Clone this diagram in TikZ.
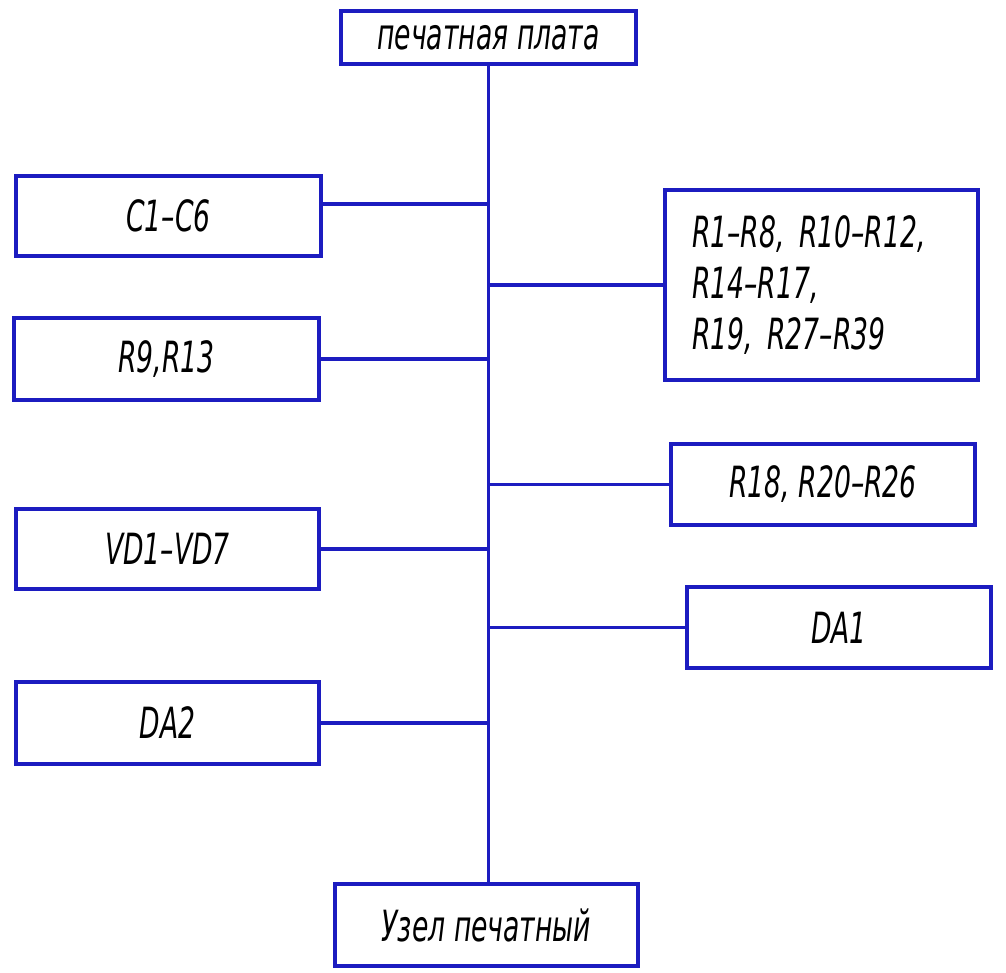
\documentclass[tikz,border=0pt]{standalone}
\usepackage{fontspec}
\setmainfont{DejaVu Sans}[FakeStretch = 0.62]
\usetikzlibrary{positioning, calc}
\definecolor{planblue}{RGB}{28,28,192}
\tikzset{blk/.style = {draw = planblue, line width = 3.4pt, inner sep = 0pt, font = \fontsize{43}{51}\selectfont\itshape}}
\tikzset{wire/.style = {draw = planblue, line width = 3.4pt}}

\begin{document}
\begin{tikzpicture}[x = 1pt, y = -1pt]
\useasboundingbox (0,0) rectangle (1006,972);
\node[blk, minimum width = 295pt, minimum height = 53pt] (pcb) at (488.5,37.5) {печатная плата};
\node[blk, minimum width = 303pt, minimum height = 82pt] (unit) at (486.5,925) {Узел печатный};
\node[blk, minimum width = 305pt, minimum height = 80pt] (c16) at (168.5,216) {C1--C6};
\node[blk, minimum width = 305pt, minimum height = 82pt] (r9) at (166.5,359) {R9,R13};
\node[blk, minimum width = 303pt, minimum height = 80pt] (vd) at (167.5,549) {VD1--VD7};
\node[blk, minimum width = 303pt, minimum height = 82pt] (da2) at (167.5,723) {DA2};
\node[blk, minimum width = 313pt, minimum height = 190pt, align = left, text width = 259pt] (rlist) at (821.5,285) {R1--R8, R10--R12,\\R14--R17,\\R19, R27--R39};
\node[blk, minimum width = 304pt, minimum height = 81pt] (r18) at (823,484.5) {R18, R20--R26};
\node[blk, minimum width = 304pt, minimum height = 81pt] (da1) at (839,627.5) {DA1};
\draw[wire] (pcb.south) -- (pcb.south |- unit.north);
\draw[wire] ([yshift = 12pt]c16.east) -- ([yshift = 12pt]c16.east -| pcb.south);
\draw[wire] (r9.east) -- (r9.east -| pcb.south);
\draw[wire] (vd.east) -- (vd.east -| pcb.south);
\draw[wire] (da2.east) -- (da2.east -| pcb.south);
\draw[wire] (rlist.west) -- (rlist.west -| pcb.south);
\draw[wire] (r18.west) -- (r18.west -| pcb.south);
\draw[wire] (da1.west) -- (da1.west -| pcb.south);
\end{tikzpicture}
\end{document}
